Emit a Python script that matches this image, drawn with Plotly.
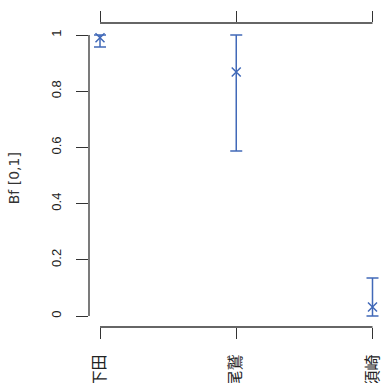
import plotly.graph_objects as go

categories = ["下田", "尾鷲", "須崎"]
bf_mean = [0.99, 0.868, 0.032]
bf_upper = [1.0, 1.0, 0.135]
bf_lower = [0.957, 0.587, 0.0]
y_ticks = [0, 0.2, 0.4, 0.6, 0.8, 1]
y_tick_labels = ["0", "0.2", "0.4", "0.6", "0.8", "1"]

xpos = list(range(1, len(categories) + 1))
blue = "#4169b8"
axis_col = "#333333"

fig = go.Figure()
fig.add_trace(go.Scatter(
    x=xpos, y=bf_mean, mode="markers",
    marker=dict(symbol="x-thin", size=9, line=dict(width=1.5, color=blue), color=blue),
    error_y=dict(type="data", symmetric=False,
                 array=[u - m for u, m in zip(bf_upper, bf_mean)],
                 arrayminus=[m - l for m, l in zip(bf_mean, bf_lower)],
                 color=blue, thickness=1.5, width=6),
    showlegend=False, cliponaxis=False,
))

# axis lines spanning only the tick range (R style)
fig.add_shape(type="line", xref="x", yref="paper", x0=xpos[0], x1=xpos[-1], y0=1, y1=1,
              line=dict(color=axis_col, width=1.3))
fig.add_shape(type="line", xref="x", yref="paper", x0=xpos[0], x1=xpos[-1], y0=0, y1=0,
              line=dict(color=axis_col, width=1.3))
fig.add_shape(type="line", xref="paper", yref="y", x0=0, x1=0, y0=min(y_ticks), y1=max(y_ticks),
              line=dict(color=axis_col, width=1.3))

fig.add_annotation(text="Bf [0,1]", xref="paper", yref="y", x=-75 / 292, y=0.49,
                   textangle=-90, showarrow=False, xanchor="center", yanchor="middle",
                   font=dict(family="DejaVu Sans", size=14, color="#333333"))

fig.update_xaxes(range=[1 - 11 / 136.25, 3 + 8.5 / 136.25], tickvals=xpos, ticktext=categories,
                 tickangle=-90, ticks="outside", ticklen=11, tickwidth=1.3, tickcolor=axis_col,
                 mirror="ticks", showline=False, showgrid=False, zeroline=False,
                 ticklabelstandoff=9, automargin=False, ticklabeloverflow="allow",
                 tickfont=dict(family="Noto Sans CJK JP", size=16, color="#222222"))
fig.update_yaxes(range=[-11 / 281, 1 + 12 / 281], tickvals=y_ticks, ticktext=y_tick_labels,
                 tickangle=-90, ticks="outside", ticklen=12, tickwidth=1.3, tickcolor=axis_col,
                 showline=False, showgrid=False, zeroline=False, ticklabelstandoff=10,
                 automargin=False,
                 tickfont=dict(family="Liberation Sans, Arial", size=13, color="#222222"))

fig.update_layout(width=381, height=383, margin=dict(l=89, r=0, t=23, b=56, autoexpand=False),
                  plot_bgcolor="white", paper_bgcolor="white")
# remove the page's default body margin and scrollbars so the figure fills the window exactly
fig.write_html("out.html", config={"displayModeBar": False},
               post_script="document.body.style.margin='0';document.body.style.overflow='hidden';"
                           "document.documentElement.style.overflow='hidden';")
